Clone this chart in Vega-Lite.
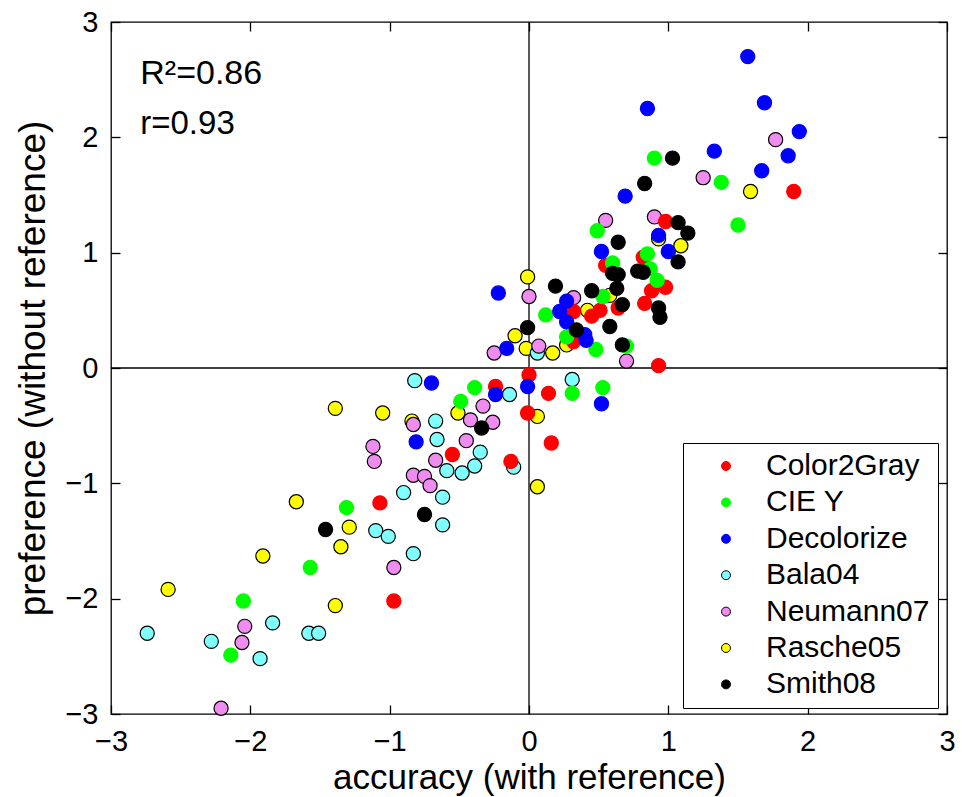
{
  "$schema": "https://vega.github.io/schema/vega-lite/v6.json",
  "autosize": {"type": "none"},
  "width": 836,
  "height": 692,
  "padding": {"left": 111, "top": 22, "right": 18, "bottom": 83},
  "background": "white",
  "config": {
    "view": {"stroke": "black", "strokeWidth": 1.3},
    "font": "Liberation Sans",
    "axis": {"grid": false, "domain": false, "labelFlush": false, "labelOverlap": false, "tickColor": "black", "tickWidth": 1.3, "labelColor": "black", "titleColor": "black", "labelFont": "Liberation Sans", "titleFont": "Liberation Sans", "titleFontWeight": "normal", "labelFontSize": 29, "titleFontSize": 37},
    "legend": {"orient": "none", "legendX": 572, "legendY": 421, "strokeColor": "black", "fillColor": "white", "padding": 8, "labelFontSize": 30, "labelLimit": 400, "labelFont": "Liberation Sans", "labelColor": "black", "symbolSize": 80, "symbolStrokeWidth": 1, "rowPadding": 6.4, "symbolOffset": 20, "labelOffset": 25, "symbolType": "circle"}
  },
  "datasets": {
    "pts": [
      {"method": "Rasche05", "accuracy": 1.59, "preference": 1.53},
      {"method": "Rasche05", "accuracy": 1.09, "preference": 1.06},
      {"method": "Rasche05", "accuracy": 0.93, "preference": 1.12},
      {"method": "Rasche05", "accuracy": 0.58, "preference": 0.63},
      {"method": "Rasche05", "accuracy": 0.42, "preference": 0.50},
      {"method": "Rasche05", "accuracy": 0.27, "preference": 0.20},
      {"method": "Rasche05", "accuracy": -0.01, "preference": 0.79},
      {"method": "Rasche05", "accuracy": -0.10, "preference": 0.28},
      {"method": "Rasche05", "accuracy": -0.02, "preference": 0.17},
      {"method": "Rasche05", "accuracy": 0.17, "preference": 0.13},
      {"method": "Rasche05", "accuracy": 0.06, "preference": -0.42},
      {"method": "Rasche05", "accuracy": 0.06, "preference": -1.03},
      {"method": "Rasche05", "accuracy": -0.51, "preference": -0.39},
      {"method": "Rasche05", "accuracy": -0.84, "preference": -0.46},
      {"method": "Rasche05", "accuracy": -1.39, "preference": -0.35},
      {"method": "Rasche05", "accuracy": -1.05, "preference": -0.39},
      {"method": "Rasche05", "accuracy": -1.67, "preference": -1.16},
      {"method": "Rasche05", "accuracy": -1.29, "preference": -1.38},
      {"method": "Rasche05", "accuracy": -1.35, "preference": -1.55},
      {"method": "Rasche05", "accuracy": -1.91, "preference": -1.63},
      {"method": "Rasche05", "accuracy": -1.39, "preference": -2.06},
      {"method": "Rasche05", "accuracy": -2.59, "preference": -1.92},
      {"method": "Bala04", "accuracy": 0.31, "preference": -0.10},
      {"method": "Bala04", "accuracy": 0.06, "preference": 0.13},
      {"method": "Bala04", "accuracy": -0.82, "preference": -0.11},
      {"method": "Bala04", "accuracy": -0.14, "preference": -0.23},
      {"method": "Bala04", "accuracy": -0.67, "preference": -0.46},
      {"method": "Bala04", "accuracy": -0.66, "preference": -0.62},
      {"method": "Bala04", "accuracy": -0.35, "preference": -0.73},
      {"method": "Bala04", "accuracy": -0.59, "preference": -0.89},
      {"method": "Bala04", "accuracy": -0.48, "preference": -0.91},
      {"method": "Bala04", "accuracy": -0.39, "preference": -0.85},
      {"method": "Bala04", "accuracy": -0.11, "preference": -0.86},
      {"method": "Bala04", "accuracy": -0.90, "preference": -1.08},
      {"method": "Bala04", "accuracy": -0.62, "preference": -1.12},
      {"method": "Bala04", "accuracy": -0.62, "preference": -1.36},
      {"method": "Bala04", "accuracy": -1.10, "preference": -1.41},
      {"method": "Bala04", "accuracy": -1.01, "preference": -1.46},
      {"method": "Bala04", "accuracy": -0.83, "preference": -1.61},
      {"method": "Bala04", "accuracy": -1.84, "preference": -2.21},
      {"method": "Bala04", "accuracy": -1.58, "preference": -2.30},
      {"method": "Bala04", "accuracy": -1.51, "preference": -2.30},
      {"method": "Bala04", "accuracy": -2.74, "preference": -2.30},
      {"method": "Bala04", "accuracy": -2.28, "preference": -2.37},
      {"method": "Bala04", "accuracy": -1.93, "preference": -2.52},
      {"method": "Neumann07", "accuracy": 1.77, "preference": 1.98},
      {"method": "Neumann07", "accuracy": 1.25, "preference": 1.65},
      {"method": "Neumann07", "accuracy": 0.55, "preference": 1.28},
      {"method": "Neumann07", "accuracy": 0.90, "preference": 1.31},
      {"method": "Neumann07", "accuracy": 0.32, "preference": 0.61},
      {"method": "Neumann07", "accuracy": 0.00, "preference": 0.62},
      {"method": "Neumann07", "accuracy": 0.07, "preference": 0.19},
      {"method": "Neumann07", "accuracy": -0.25, "preference": 0.13},
      {"method": "Neumann07", "accuracy": 0.70, "preference": 0.06},
      {"method": "Neumann07", "accuracy": -0.33, "preference": -0.33},
      {"method": "Neumann07", "accuracy": -0.42, "preference": -0.45},
      {"method": "Neumann07", "accuracy": -0.26, "preference": -0.47},
      {"method": "Neumann07", "accuracy": -0.83, "preference": -0.49},
      {"method": "Neumann07", "accuracy": -0.45, "preference": -0.63},
      {"method": "Neumann07", "accuracy": -0.67, "preference": -0.80},
      {"method": "Neumann07", "accuracy": -0.83, "preference": -0.93},
      {"method": "Neumann07", "accuracy": -0.75, "preference": -0.94},
      {"method": "Neumann07", "accuracy": -0.71, "preference": -1.02},
      {"method": "Neumann07", "accuracy": -1.12, "preference": -0.68},
      {"method": "Neumann07", "accuracy": -1.11, "preference": -0.81},
      {"method": "Neumann07", "accuracy": -0.97, "preference": -1.73},
      {"method": "Neumann07", "accuracy": -2.04, "preference": -2.24},
      {"method": "Neumann07", "accuracy": -2.06, "preference": -2.38},
      {"method": "Neumann07", "accuracy": -2.21, "preference": -2.95},
      {"method": "Color2Gray", "accuracy": 1.90, "preference": 1.53},
      {"method": "Color2Gray", "accuracy": 0.98, "preference": 1.27},
      {"method": "Color2Gray", "accuracy": 0.55, "preference": 0.89},
      {"method": "Color2Gray", "accuracy": 0.82, "preference": 0.96},
      {"method": "Color2Gray", "accuracy": 0.98, "preference": 0.70},
      {"method": "Color2Gray", "accuracy": 0.88, "preference": 0.67},
      {"method": "Color2Gray", "accuracy": 0.83, "preference": 0.56},
      {"method": "Color2Gray", "accuracy": 0.32, "preference": 0.49},
      {"method": "Color2Gray", "accuracy": 0.45, "preference": 0.45},
      {"method": "Color2Gray", "accuracy": 0.51, "preference": 0.50},
      {"method": "Color2Gray", "accuracy": 0.64, "preference": 0.52},
      {"method": "Color2Gray", "accuracy": 0.32, "preference": 0.23},
      {"method": "Color2Gray", "accuracy": 0.93, "preference": 0.02},
      {"method": "Color2Gray", "accuracy": 0.00, "preference": -0.06},
      {"method": "Color2Gray", "accuracy": 0.14, "preference": -0.22},
      {"method": "Color2Gray", "accuracy": -0.01, "preference": -0.39},
      {"method": "Color2Gray", "accuracy": 0.16, "preference": -0.65},
      {"method": "Color2Gray", "accuracy": -0.24, "preference": -0.16},
      {"method": "Color2Gray", "accuracy": -0.55, "preference": -0.75},
      {"method": "Color2Gray", "accuracy": -0.13, "preference": -0.81},
      {"method": "Color2Gray", "accuracy": -1.07, "preference": -1.17},
      {"method": "Color2Gray", "accuracy": -0.97, "preference": -2.02},
      {"method": "CIE Y", "accuracy": 1.50, "preference": 1.24},
      {"method": "CIE Y", "accuracy": 1.38, "preference": 1.61},
      {"method": "CIE Y", "accuracy": 0.90, "preference": 1.82},
      {"method": "CIE Y", "accuracy": 0.49, "preference": 1.19},
      {"method": "CIE Y", "accuracy": 0.85, "preference": 0.99},
      {"method": "CIE Y", "accuracy": 0.60, "preference": 0.91},
      {"method": "CIE Y", "accuracy": 0.87, "preference": 0.86},
      {"method": "CIE Y", "accuracy": 0.92, "preference": 0.76},
      {"method": "CIE Y", "accuracy": 0.53, "preference": 0.62},
      {"method": "CIE Y", "accuracy": 0.12, "preference": 0.46},
      {"method": "CIE Y", "accuracy": 0.27, "preference": 0.27},
      {"method": "CIE Y", "accuracy": 0.48, "preference": 0.16},
      {"method": "CIE Y", "accuracy": 0.70, "preference": 0.19},
      {"method": "CIE Y", "accuracy": 0.31, "preference": -0.22},
      {"method": "CIE Y", "accuracy": 0.53, "preference": -0.17},
      {"method": "CIE Y", "accuracy": -0.39, "preference": -0.17},
      {"method": "CIE Y", "accuracy": -0.49, "preference": -0.29},
      {"method": "CIE Y", "accuracy": -1.31, "preference": -1.21},
      {"method": "CIE Y", "accuracy": -1.57, "preference": -1.73},
      {"method": "CIE Y", "accuracy": -2.05, "preference": -2.02},
      {"method": "CIE Y", "accuracy": -2.14, "preference": -2.49},
      {"method": "Decolorize", "accuracy": 1.57, "preference": 2.70},
      {"method": "Decolorize", "accuracy": 1.69, "preference": 2.30},
      {"method": "Decolorize", "accuracy": 1.94, "preference": 2.05},
      {"method": "Decolorize", "accuracy": 1.86, "preference": 1.84},
      {"method": "Decolorize", "accuracy": 1.67, "preference": 1.71},
      {"method": "Decolorize", "accuracy": 1.33, "preference": 1.88},
      {"method": "Decolorize", "accuracy": 0.85, "preference": 2.25},
      {"method": "Decolorize", "accuracy": 0.69, "preference": 1.49},
      {"method": "Decolorize", "accuracy": 0.52, "preference": 1.01},
      {"method": "Decolorize", "accuracy": 0.93, "preference": 1.15},
      {"method": "Decolorize", "accuracy": 1.00, "preference": 1.01},
      {"method": "Decolorize", "accuracy": 0.27, "preference": 0.58},
      {"method": "Decolorize", "accuracy": 0.22, "preference": 0.49},
      {"method": "Decolorize", "accuracy": 0.27, "preference": 0.40},
      {"method": "Decolorize", "accuracy": 0.40, "preference": 0.29},
      {"method": "Decolorize", "accuracy": 0.41, "preference": 0.24},
      {"method": "Decolorize", "accuracy": -0.22, "preference": 0.65},
      {"method": "Decolorize", "accuracy": -0.16, "preference": 0.17},
      {"method": "Decolorize", "accuracy": -0.01, "preference": -0.16},
      {"method": "Decolorize", "accuracy": 0.52, "preference": -0.31},
      {"method": "Decolorize", "accuracy": -0.24, "preference": -0.23},
      {"method": "Decolorize", "accuracy": -0.70, "preference": -0.13},
      {"method": "Decolorize", "accuracy": -0.81, "preference": -0.64},
      {"method": "Smith08", "accuracy": 1.03, "preference": 1.82},
      {"method": "Smith08", "accuracy": 0.83, "preference": 1.60},
      {"method": "Smith08", "accuracy": 0.64, "preference": 1.09},
      {"method": "Smith08", "accuracy": 1.07, "preference": 1.26},
      {"method": "Smith08", "accuracy": 1.14, "preference": 1.17},
      {"method": "Smith08", "accuracy": 1.07, "preference": 0.92},
      {"method": "Smith08", "accuracy": 0.60, "preference": 0.82},
      {"method": "Smith08", "accuracy": 0.64, "preference": 0.81},
      {"method": "Smith08", "accuracy": 0.78, "preference": 0.84},
      {"method": "Smith08", "accuracy": 0.82, "preference": 0.83},
      {"method": "Smith08", "accuracy": 0.93, "preference": 0.52},
      {"method": "Smith08", "accuracy": 0.94, "preference": 0.44},
      {"method": "Smith08", "accuracy": 0.19, "preference": 0.71},
      {"method": "Smith08", "accuracy": 0.45, "preference": 0.67},
      {"method": "Smith08", "accuracy": 0.63, "preference": 0.69},
      {"method": "Smith08", "accuracy": 0.67, "preference": 0.55},
      {"method": "Smith08", "accuracy": 0.58, "preference": 0.36},
      {"method": "Smith08", "accuracy": 0.34, "preference": 0.33},
      {"method": "Smith08", "accuracy": 0.67, "preference": 0.20},
      {"method": "Smith08", "accuracy": -0.01, "preference": 0.35},
      {"method": "Smith08", "accuracy": -0.34, "preference": -0.52},
      {"method": "Smith08", "accuracy": -0.75, "preference": -1.27},
      {"method": "Smith08", "accuracy": -1.46, "preference": -1.40}
    ]
  },
  "layer": [
    {
      "data": {"values": [{}]},
      "mark": {"type": "rule", "color": "black", "strokeWidth": 1.3},
      "encoding": {
        "x": {"datum": 0, "type": "quantitative", "scale": {"domain": [-3, 3], "nice": false},
          "axis": {"orient": "top", "labels": false, "title": null, "values": [-3, -2, -1, 0, 1, 2, 3], "tickSize": -9}}
      }
    },
    {
      "data": {"values": [{}]},
      "mark": {"type": "rule", "color": "black", "strokeWidth": 1.3},
      "encoding": {
        "y": {"datum": 0, "type": "quantitative", "scale": {"domain": [-3, 3], "nice": false},
          "axis": {"orient": "right", "labels": false, "title": null, "values": [-3, -2, -1, 0, 1, 2, 3], "tickSize": -9}}
      }
    },
    {
      "data": {"name": "pts"},
      "mark": {"type": "point", "filled": true, "shape": "circle", "size": 200, "strokeWidth": 1.2, "opacity": 1},
      "encoding": {
        "x": {"field": "accuracy", "type": "quantitative", "scale": {"domain": [-3, 3], "nice": false},
          "axis": {"orient": "bottom", "title": "accuracy (with reference)", "titleFontSize": 35, "values": [-3, -2, -1, 0, 1, 2, 3], "tickSize": -9, "labelPadding": 22, "titlePadding": 4}},
        "y": {"field": "preference", "type": "quantitative", "scale": {"domain": [-3, 3], "nice": false},
          "axis": {"orient": "left", "title": "preference (without reference)", "values": [-3, -2, -1, 0, 1, 2, 3], "tickSize": -9, "labelPadding": 22, "titlePadding": 12}},
        "fill": {"field": "method", "type": "nominal",
          "scale": {"domain": ["Color2Gray", "CIE Y", "Decolorize", "Bala04", "Neumann07", "Rasche05", "Smith08"],
                    "range": ["#ff0000", "#00ff00", "#0000ff", "#80ffff", "#f08cf0", "#ffff00", "#000000"]},
          "legend": {"title": null}},
        "stroke": {"field": "method", "type": "nominal",
          "scale": {"domain": ["Color2Gray", "CIE Y", "Decolorize", "Bala04", "Neumann07", "Rasche05", "Smith08"],
                    "range": ["#ff0000", "#00ff00", "#0000ff", "#000000", "#000000", "#000000", "#000000"]},
          "legend": {"title": null}}
      }
    },
    {
      "data": {"values": [{}]},
      "mark": {"type": "text", "text": "R²=0.86", "align": "left", "baseline": "alphabetic", "fontSize": 34, "font": "Liberation Sans", "color": "black"},
      "encoding": {"x": {"datum": -2.79, "type": "quantitative", "axis": null}, "y": {"datum": 2.46, "type": "quantitative", "axis": null}}
    },
    {
      "data": {"values": [{}]},
      "mark": {"type": "text", "text": "r=0.93", "align": "left", "baseline": "alphabetic", "fontSize": 33, "font": "Liberation Sans", "color": "black"},
      "encoding": {"x": {"datum": -2.79, "type": "quantitative", "axis": null}, "y": {"datum": 2.03, "type": "quantitative", "axis": null}}
    }
  ],
  "resolve": {"scale": {"x": "shared", "y": "shared"}}
}
